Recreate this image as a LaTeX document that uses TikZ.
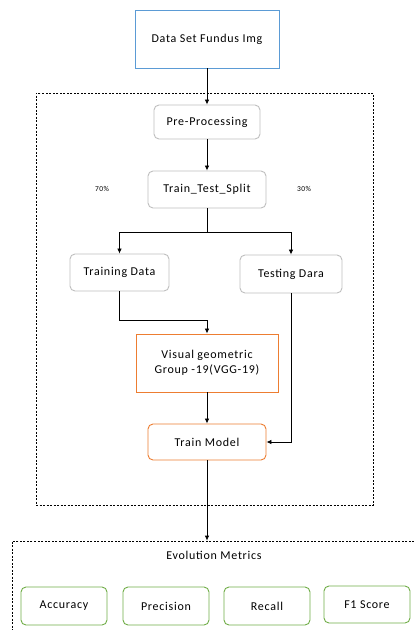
\documentclass[tikz,border=0pt]{standalone}
\usepackage{fontspec}
\setmainfont{Carlito}[LetterSpace=6]
\usetikzlibrary{arrows.meta}
\definecolor{blueb}{HTML}{5B9BD5}
\definecolor{grayb}{HTML}{BFBFBF}
\definecolor{orangeb}{HTML}{ED7D31}
\definecolor{greenb}{HTML}{70AD47}
\tikzset{
  box/.style={draw, line width=0.9pt, inner sep=2pt, align=center, font=\fontsize{12}{15}\selectfont},
  gbox/.style={box, draw=grayb, rounded corners=5pt},
  obox/.style={box, draw=orangeb},
  orbox/.style={box, draw=orangeb, rounded corners=5pt},
  mbox/.style={box, draw=greenb, rounded corners=5pt, minimum width=86pt, minimum height=38pt},
  dbox/.style={draw, dash pattern=on 2pt off 1.5pt, line width=0.7pt},
  arr/.style={-{Latex[length=5pt,width=4.5pt]}, line width=0.8pt},
  pct/.style={font=\fontsize{7.5}{9}\selectfont}
}
\begin{document}
\begin{tikzpicture}[x=1pt,y=-1pt]
\clip (0,0) rectangle (414,630);
\fill[white] (0,0) rectangle (414,630);
% outer dashed frame
\node[dbox, minimum width=337pt, minimum height=412pt] (frame) at (204.5,299) {};
% bottom metrics frame (clipped)
\node[dbox, minimum width=418pt, minimum height=119pt] (metrics) at (221,600.5) {};
\node[font=\fontsize{12}{15}\selectfont] (mtitle) at (214,555) {Evolution Metrics};
% main nodes
\node[box, draw=blueb, minimum width=144pt, minimum height=58pt] (data) at (207,39) {Data Set Fundus Img};
\node[gbox, minimum width=106pt, minimum height=34pt] (pre) at (207,122) {Pre-Processing};
\node[gbox, minimum width=118pt, minimum height=37pt] (split) at (207,189.5) {Train\_Test\_Split};
\node[pct] (p70) at (102,189) {70\%};
\node[pct] (p30) at (304,189) {30\%};
\node[gbox, minimum width=99pt, minimum height=37pt] (train) at (119.5,272.5) {Training Data};
\node[gbox, minimum width=102pt, minimum height=38pt] (test) at (291,274) {Testing Dara};
\node[obox, minimum width=142pt, minimum height=58pt] (vgg) at (207,363) {Visual geometric\\Group -19(VGG-19)};
\node[orbox, minimum width=118pt, minimum height=36pt] (model) at (207,442) {Train Model};
% metrics
\node[mbox] (acc) at (64,606) {Accuracy};
\node[mbox] (prec) at (166,606) {Precision};
\node[mbox] (rec) at (267,606) {Recall};
\node[mbox, minimum height=37pt] (f1) at (367,604.5) {F1 Score};
% connectors
\coordinate (sp) at (207,232);
\coordinate (bend) at (207,320);
\draw[arr] (data.south) -- (pre.north);
\draw[arr] (pre.south) -- (split.north);
\draw[line width=0.8pt] (split.south) -- (sp);
\draw[arr] (sp) -| (train.north);
\draw[arr] (sp) -| (test.north);
\draw[arr] (train.south) |- (bend) -- (vgg.north);
\draw[arr] (vgg.south) -- (model.north);
\draw[arr] (test.south) |- (model.east);
\draw[arr] (model.south) -- (model.south |- metrics.north);
\end{tikzpicture}
\end{document}
